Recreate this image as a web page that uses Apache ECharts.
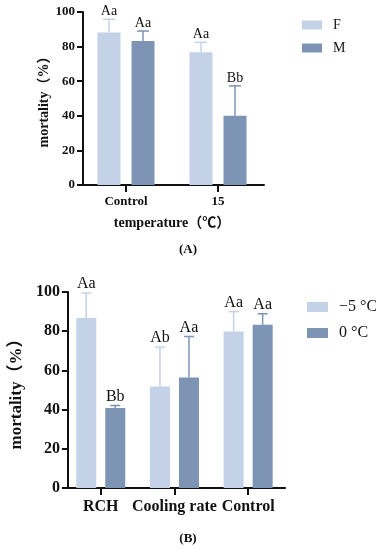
<!DOCTYPE html>
<html><head><meta charset="utf-8">
<script src="https://cdn.jsdelivr.net/npm/echarts@6/dist/echarts.min.js"></script>
<style>html,body{margin:0;padding:0;background:#fff;}#c{width:376px;height:550px;}</style>
</head><body><div id="c"></div>
<script>
// Panel A
var catsA = ['Control', '15'];
var seriesNamesA = ['F', 'M'];
var valsA_F = [88.2, 76.7];
var errA_F = [95.8, 82.5];
var sigA_F = ['Aa', 'Aa'];
var valsA_M = [83.3, 40.0];
var errA_M = [89.0, 57.3];
var sigA_M = ['Aa', 'Bb'];
var ticksY = [0, 20, 40, 60, 80, 100];
// Panel B
var catsB = ['RCH', 'Cooling rate', 'Control'];
var seriesNamesB = ['\u22125 \u00B0C', '0 \u00B0C'];
var valsB_m5 = [86.7, 51.8, 79.9];
var errB_m5 = [99.5, 71.9, 90.0];
var sigB_m5 = ['Aa', 'Ab', 'Aa'];
var valsB_0 = [40.8, 56.4, 83.3];
var errB_0 = [42.1, 77.3, 88.9];
var sigB_0 = ['Bb', 'Aa', 'Aa'];

var LIGHT = '#c4d2e7', DARK = '#7e94b4';
var SERIF = '"Liberation Serif","Times New Roman","Noto Sans CJK SC",serif';

function errSeries(name, xi, yi, vals, errs, sigs, color, offset, cap, fs) {
  return {
    type: 'custom', name: name + '_err', xAxisIndex: xi, yAxisIndex: yi, z: 5,
    silent: true,
    data: vals.map(function (v, i) { return [i, v, errs[i], sigs[i]]; }),
    encode: { x: 0, y: 1 },
    renderItem: function (params, api) {
      var b = api.coord([api.value(0), api.value(1)]);
      var t = api.coord([api.value(0), api.value(2)]);
      var x = b[0] + offset;
      var label = sigs[params.dataIndex];
      return { type: 'group', children: [
        { type: 'line', shape: { x1: x, y1: b[1], x2: x, y2: t[1] }, style: { stroke: color, lineWidth: 1.5 } },
        { type: 'line', shape: { x1: x - cap, y1: t[1], x2: x + cap, y2: t[1] }, style: { stroke: color, lineWidth: 1.5 } },
        { type: 'text', x: x, y: t[1] - 1, style: { text: label, fill: '#111', font: fs + 'px ' + SERIF, textAlign: 'center', textVerticalAlign: 'bottom' } }
      ]};
    }
  };
}

function yAx(gi, fs, offset, gap) {
  return {
    type: 'value', gridIndex: gi, min: 0, max: 100, interval: 20, offset: offset,
    name: 'mortality\uFF08%\uFF09', nameLocation: 'middle', nameGap: gap,
    nameTextStyle: { fontFamily: SERIF, fontWeight: 'bold', fontSize: fs + 1, color: '#111' },
    axisLine: { show: true, lineStyle: { color: '#111', width: 2 } },
    axisTick: { show: true, length: 6, lineStyle: { color: '#111', width: 2 } },
    splitLine: { show: false },
    axisLabel: { fontFamily: SERIF, fontWeight: 'bold', fontSize: fs, color: '#111', margin: 8,
      formatter: function (v) { return ticksY.indexOf(v) >= 0 ? String(v) : ''; } }
  };
}

function xAx(gi, cats, fs, margin, name) {
  var o = {
    type: 'category', gridIndex: gi, data: cats,
    axisLine: { show: true, lineStyle: { color: '#111', width: 2 } },
    axisTick: { show: true, length: 7, alignWithLabel: true, lineStyle: { color: '#111', width: 2 } },
    axisLabel: { fontFamily: SERIF, fontWeight: 'bold', fontSize: fs, color: '#111', margin: margin, interval: 0 }
  };
  if (name) {
    o.name = name; o.nameLocation = 'middle'; o.nameGap = 31;
    o.nameTextStyle = { fontFamily: SERIF, fontWeight: 'bold', fontSize: fs + 1, color: '#111' };
  }
  return o;
}

var chart = echarts.init(document.getElementById('c'), null, { renderer: 'canvas' });
chart.setOption({
  animation: false,
  backgroundColor: '#fff',
  grid: [
    { left: 80, right: 112, top: 12, bottom: 365 },
    { left: 57, right: 91, top: 292, bottom: 62 }
  ],
  xAxis: [xAx(0, catsA, 13, 10, 'temperature\uFF08\u2103\uFF09'), xAx(1, catsB, 16, 11, null)],
  yAxis: [yAx(0, 13, -3, 32), yAx(1, 16, -4, 41)],
  legend: [
    { data: seriesNamesA, orient: 'vertical', left: 297, top: 13, icon: 'rect', itemWidth: 20, itemHeight: 9, itemGap: 9,
      textStyle: { fontFamily: SERIF, fontSize: 14, color: '#111', padding: [0, 0, 0, 6] } },
    { data: seriesNamesB, orient: 'vertical', left: 302, top: 294, icon: 'rect', itemWidth: 21, itemHeight: 10, itemGap: 10,
      textStyle: { fontFamily: SERIF, fontSize: 16, color: '#111', padding: [0, 0, 0, 6] } }
  ],
  series: [
    { type: 'bar', name: seriesNamesA[0], xAxisIndex: 0, yAxisIndex: 0, data: valsA_F, barWidth: 23, barGap: '48%', itemStyle: { color: LIGHT } },
    { type: 'bar', name: seriesNamesA[1], xAxisIndex: 0, yAxisIndex: 0, data: valsA_M, barWidth: 23, barGap: '48%', itemStyle: { color: DARK } },
    errSeries('F', 0, 0, valsA_F, errA_F, sigA_F, LIGHT, -17, 6, 14),
    errSeries('M', 0, 0, valsA_M, errA_M, sigA_M, DARK, 17, 6, 14),
    { type: 'bar', name: seriesNamesB[0], xAxisIndex: 1, yAxisIndex: 1, data: valsB_m5, barWidth: 20, barGap: '45%', itemStyle: { color: LIGHT } },
    { type: 'bar', name: seriesNamesB[1], xAxisIndex: 1, yAxisIndex: 1, data: valsB_0, barWidth: 20, barGap: '45%', itemStyle: { color: DARK } },
    errSeries('m5', 1, 1, valsB_m5, errB_m5, sigB_m5, LIGHT, -14.5, 5, 16),
    errSeries('z', 1, 1, valsB_0, errB_0, sigB_0, DARK, 14.5, 5, 16)
  ],
  graphic: [
    { type: 'text', left: 'center', top: 243, style: { text: '(A)', font: 'bold 13px ' + SERIF, fill: '#111' } },
    { type: 'text', left: 'center', top: 532, style: { text: '(B)', font: 'bold 13px ' + SERIF, fill: '#111' } }
  ]
});
</script>
</body></html>
